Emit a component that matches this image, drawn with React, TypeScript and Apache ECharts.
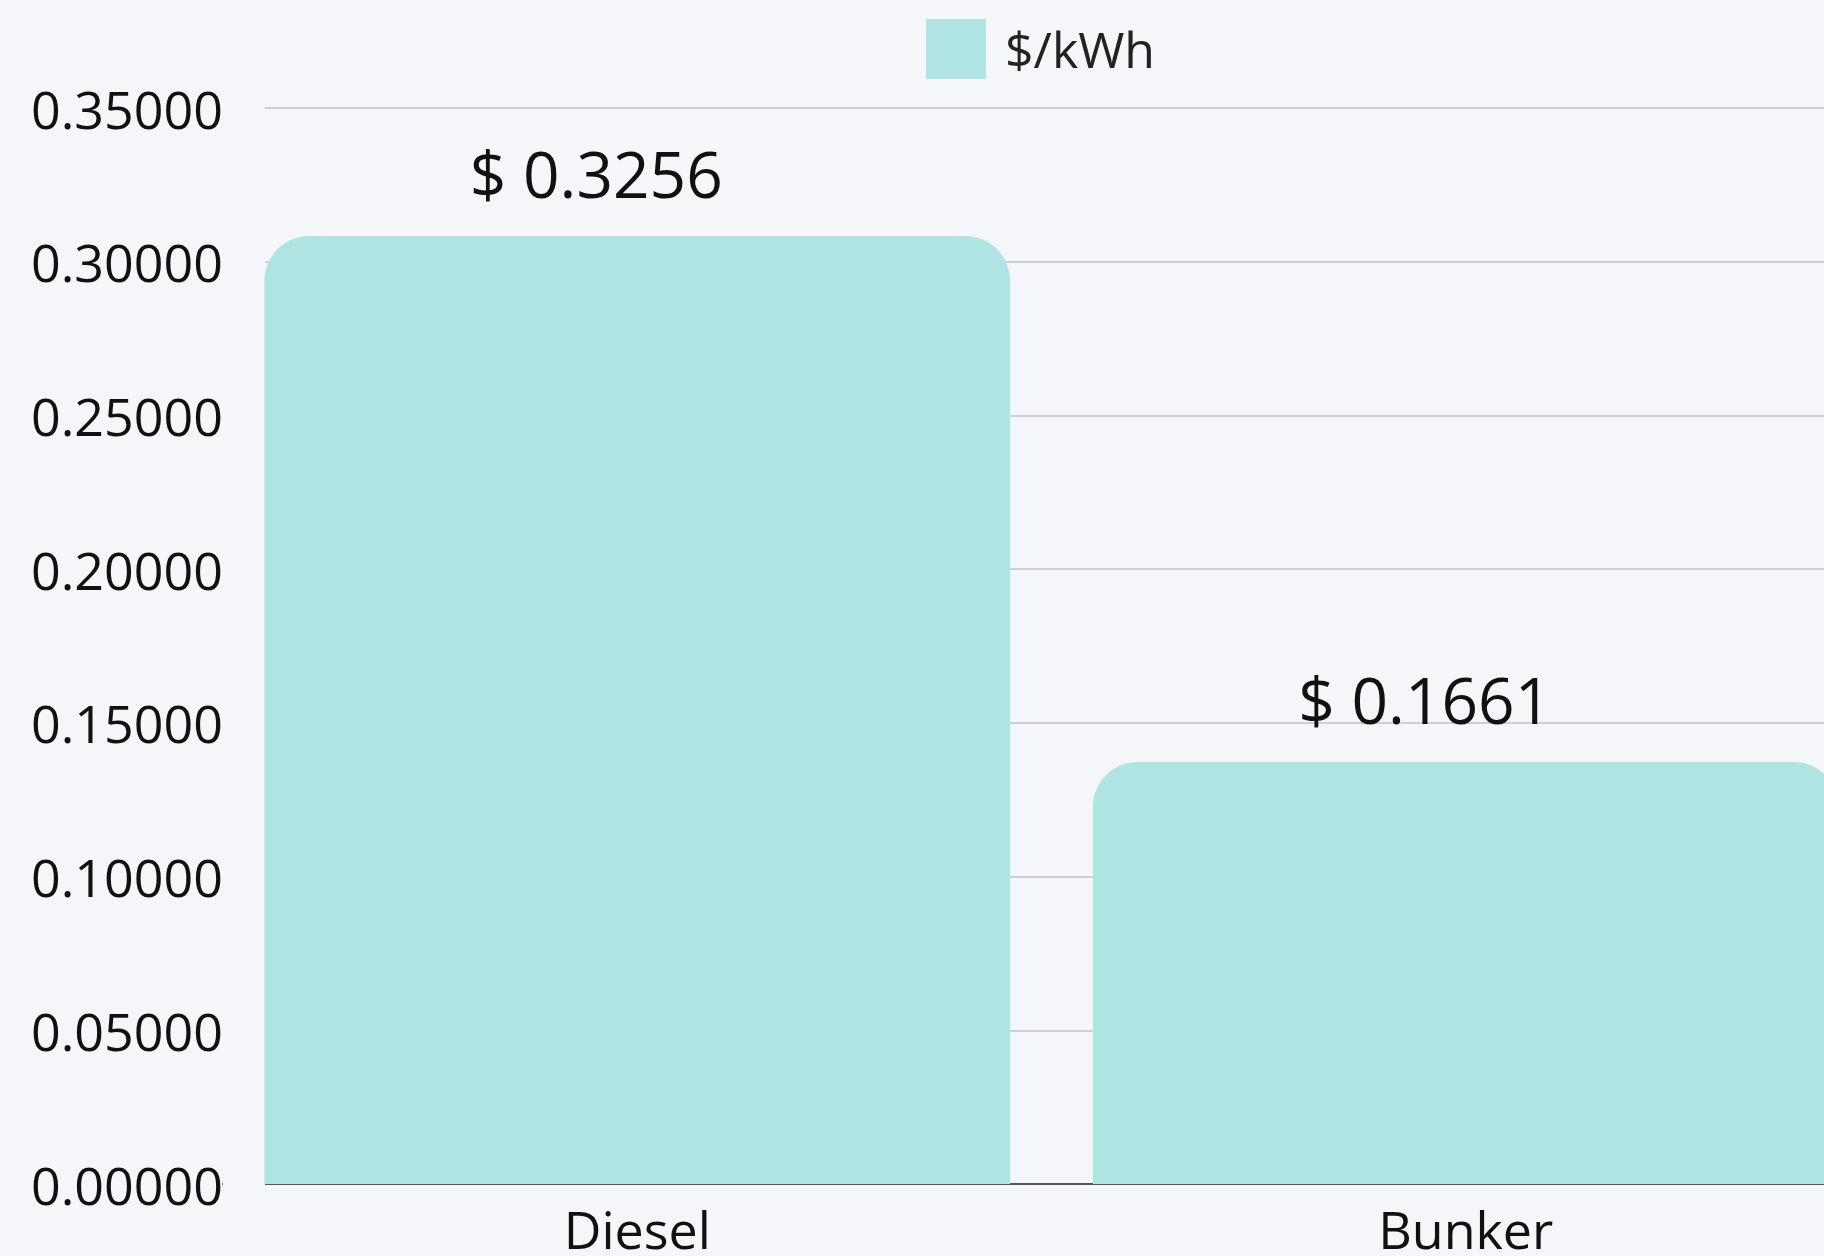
import React, { useEffect, useRef } from "react";
import * as echarts from "echarts";

const categories = ["Diesel", "Bunker"];
const barValues = [0.3084, 0.1373];
const labelTexts = ["$ 0.3256", "$ 0.1661"];
const seriesName = "$/kWh";
const yTicks = { min: 0, max: 0.35, interval: 0.05 };

const FONT = "'Open Sans', 'Noto Sans', sans-serif";
const BG = "#F4F6FA";
const BAR = "#B0E4E2";

export default function App() {
  const ref = useRef<HTMLDivElement>(null);
  useEffect(() => {
    document.body.style.margin = "0";
    const chart = echarts.init(ref.current!, null, { renderer: "svg" });
    chart.setOption({
      animation: false,
      backgroundColor: BG,
      textStyle: { fontFamily: FONT },
      legend: {
        data: [seriesName],
        left: 921,
        top: 14,
        icon: "rect",
        itemWidth: 60,
        itemHeight: 60,
        textStyle: { fontSize: 50, color: "#222", fontFamily: FONT, padding: [0, 0, 0, 14] },
      },
      grid: { left: 223, right: 0, top: 108, bottom: 72, containLabel: false },
      xAxis: {
        type: "category",
        data: categories,
        axisLine: { show: true, lineStyle: { color: "#555", width: 2 } },
        axisTick: { show: false },
        axisLabel: { fontSize: 52, color: "#111", margin: 18, fontFamily: FONT },
        splitLine: { show: false },
      },
      yAxis: {
        type: "value",
        min: yTicks.min,
        max: yTicks.max,
        interval: yTicks.interval,
        axisLine: { show: false },
        axisTick: { show: false },
        axisLabel: {
          fontSize: 52,
          color: "#111",
          margin: 0,
          fontFamily: FONT,
          formatter: (v: number) => v.toFixed(5),
        },
        splitLine: { show: true, lineStyle: { color: "#CDD0D5", width: 2 } },
      },
      graphic: [
        {
          type: "rect",
          z: 1,
          shape: { x: 223, y: 90, width: 42, height: 1110 },
          style: { fill: BG },
        },
      ],
      series: [
        {
          name: seriesName,
          type: "bar",
          z: 3,
          data: barValues,
          barCategoryGap: "10%",
          itemStyle: { color: BAR, borderRadius: [45, 45, 0, 0] },
          label: {
            show: true,
            position: "top",
            distance: 30,
            offset: [-41, 0],
            fontSize: 64,
            color: "#111",
            fontFamily: FONT,
            formatter: (p: any) => labelTexts[p.dataIndex],
          },
        },
      ],
    });
    return () => chart.dispose();
  }, []);
  return (
    <div style={{ width: 1824, height: 1256, overflow: "hidden", background: BG }}>
      <div ref={ref} style={{ width: 1880, height: 1256, background: BG }} />
    </div>
  );
}
